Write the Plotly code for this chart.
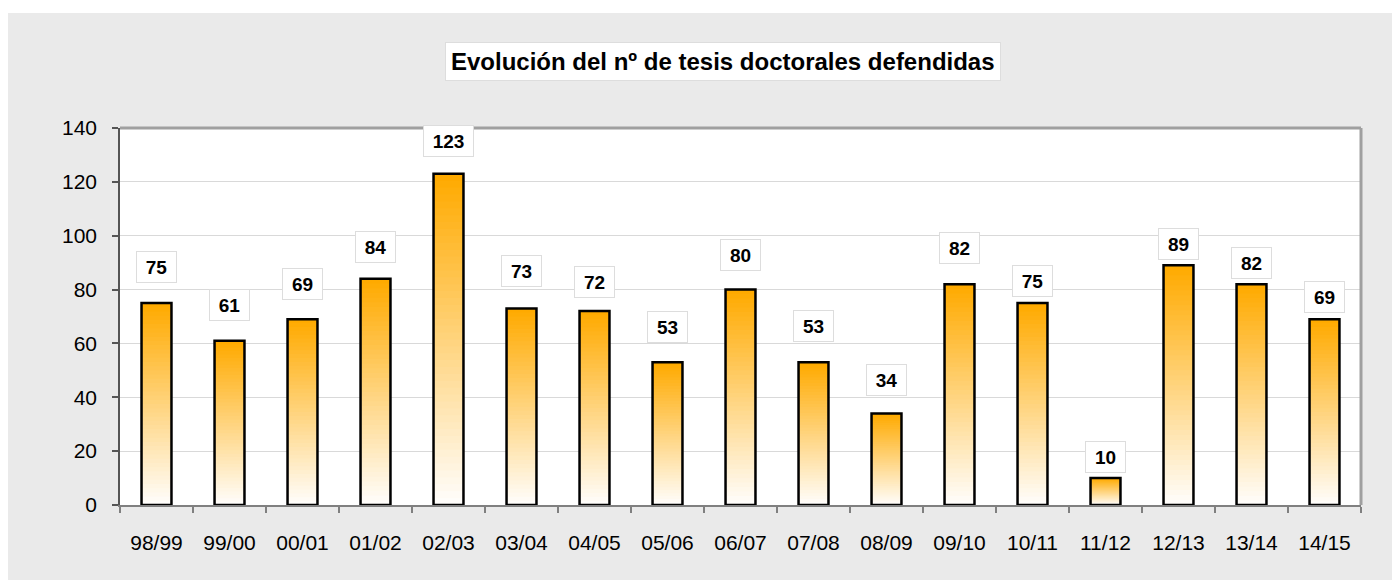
import plotly.graph_objects as go

# ---- data ----
categories = ["98/99", "99/00", "00/01", "01/02", "02/03", "03/04", "04/05", "05/06", "06/07",
              "07/08", "08/09", "09/10", "10/11", "11/12", "12/13", "13/14", "14/15"]
values = [75, 61, 69, 84, 123, 73, 72, 53, 80, 53, 34, 82, 75, 10, 89, 82, 69]
title_text = "Evolución del nº de tesis doctorales defendidas"
y_ticks = [0, 20, 40, 60, 80, 100, 120, 140]

# label vertical offsets (px above bar top), as placed in the original
label_shift = [36, 36, 35, 32, 33, 37, 29, 35, 35, 36, 33, 36, 22, 21, 21, 21, 22]

W, H = 1392, 580
ML, MR, MT, MB = 120, 31, 128, 75
PW, PH = W - ML - MR, H - MT - MB

FONT = "Arial, 'Liberation Sans', sans-serif"

fig = go.Figure()

# vertical gradient via overlaid bars (top orange -> bottom white)
N = 48
top = (255, 170, 0)
bot = (255, 253, 250)
for k in range(N):
    t = k / (N - 1)
    c = tuple(round(top[i] + (bot[i] - top[i]) * t) for i in range(3))
    frac = (N - k) / N
    fig.add_trace(go.Bar(
        x=categories, y=[v * frac for v in values],
        marker=dict(color="rgb(%d,%d,%d)" % c, line=dict(width=0)),
        hoverinfo="skip", showlegend=False,
    ))
# outline
fig.add_trace(go.Bar(
    x=categories, y=values,
    marker=dict(color="rgba(0,0,0,0)", line=dict(color="black", width=2.5)),
    showlegend=False,
))

# data labels
for c, v, s in zip(categories, values, label_shift):
    txt = str(v)
    fig.add_annotation(
        x=c, y=v, text="<b>%s</b>" % txt, showarrow=False,
        yshift=s, xref="x", yref="y",
        font=dict(family=FONT, size=19, color="black"),
        bgcolor="white", bordercolor="#DDDDDD", borderwidth=1, borderpad=1,
        width=10 * len(txt) + 17, height=28,
    )

# title box
fig.add_annotation(
    x=(723 - ML) / PW, y=(H - MB - 61.5) / PH, xref="paper", yref="paper",
    text="<b>%s</b>" % title_text, showarrow=False,
    font=dict(family=FONT, size=24, color="black"),
    bgcolor="white", bordercolor="#DDDDDD", borderwidth=1, borderpad=5,
    xanchor="center", yanchor="middle",
)

def px_x(p):
    return (p - ML) / PW

def px_y(p):
    return (H - MB - p) / PH

shapes = [
    # white margin strips outside the grey panel
    dict(type="rect", xref="paper", yref="paper", x0=px_x(0), x1=px_x(W), y0=px_y(13), y1=px_y(0),
         fillcolor="white", line=dict(width=0), layer="below"),
    dict(type="rect", xref="paper", yref="paper", x0=px_x(0), x1=px_x(8), y0=px_y(H), y1=px_y(0),
         fillcolor="white", line=dict(width=0), layer="below"),
    # top and right plot border
    dict(type="line", xref="paper", yref="paper", x0=0, x1=1, y0=1, y1=1,
         line=dict(color="#A0A0A0", width=3), layer="above"),
    dict(type="line", xref="paper", yref="paper", x0=1, x1=1, y0=0, y1=1,
         line=dict(color="#A0A0A0", width=3), layer="above"),
]

fig.update_layout(
    width=W, height=H,
    margin=dict(l=ML, r=MR, t=MT, b=MB, pad=0),
    paper_bgcolor="#EAEAEA", plot_bgcolor="white",
    barmode="overlay", bargap=0.59,
    showlegend=False,
    shapes=shapes,
    font=dict(family=FONT, size=21, color="black"),
    xaxis=dict(
        type="category", showgrid=False, showline=True, linecolor="#808080", linewidth=1.5,
        ticks="outside", tickson="boundaries", ticklen=6, tickcolor="#808080", tickwidth=1.5,
        tickfont=dict(family=FONT, size=21, color="black"), ticklabelstandoff=18,
        fixedrange=True,
    ),
    yaxis=dict(
        range=[0, 140], tickvals=y_ticks, showgrid=True, gridcolor="#D9D9D9", gridwidth=1,
        showline=True, linecolor="#555555", linewidth=1.5, zeroline=False,
        ticks="outside", ticklen=6, tickcolor="#555555", tickwidth=1.5,
        tickfont=dict(family=FONT, size=21, color="black"), ticklabelstandoff=11,
        fixedrange=True,
    ),
)

fig.write_html("out.html", config={"displayModeBar": False})

# remove default page margin so the figure sits at the window origin
with open("out.html", encoding="utf-8") as f:
    html = f.read()
html = html.replace("<body>", '<body style="margin:0;padding:0;overflow:hidden">', 1)
with open("out.html", "w", encoding="utf-8") as f:
    f.write(html)
